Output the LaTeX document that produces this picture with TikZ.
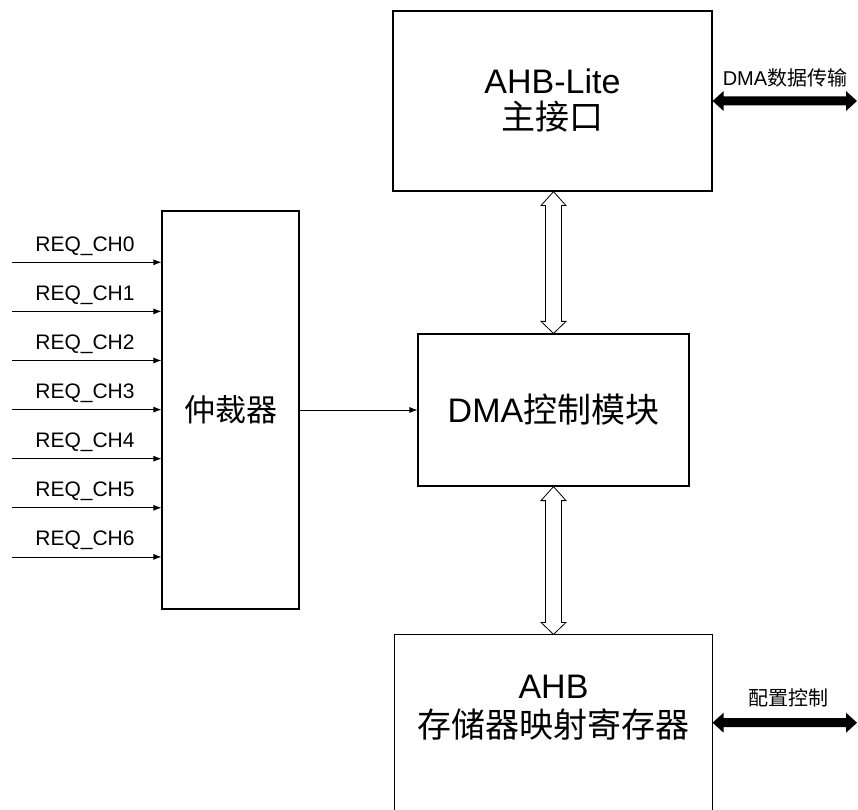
\documentclass[tikz,border=0pt]{standalone}
\usepackage{fontspec}
\setmainfont{Liberation Sans}
\newfontfamily\cjk{Noto Sans CJK SC}
\usetikzlibrary{arrows.meta,calc}
\begin{document}
\begin{tikzpicture}[x=1pt,y=1pt,
  box/.style={draw=black,line width=1.2pt,inner sep=0pt,align=center,font=\fontsize{34}{42}\selectfont},
  req/.style={-{Latex[length=8pt,width=6pt]},line width=0.8pt},
  lbl/.style={font=\fontsize{20}{22}\selectfont,inner sep=0pt},
  reqlbl/.style={font=\fontsize{21}{23}\selectfont,inner sep=0pt},
  hollow/.style={draw=black,line width=0.8pt,fill=white},
  thick/.style={fill=black}]
\useasboundingbox (0,0) rectangle (858,809);
\node[box,minimum width=319pt,minimum height=180pt] (top) at (552.5,708) {AHB-Lite\\[-6pt]{\cjk 主接口}};
\node[box,font=\fontsize{31}{40}\selectfont,minimum width=137pt,minimum height=398pt] (arb) at (230.5,399) {\cjk 仲裁器};
\node[box,minimum width=271pt,minimum height=152pt] (dma) at (553.5,399) {DMA{\cjk 控制模块}};
\node[box,draw=none,minimum width=317pt,minimum height=145pt] (cfg) at (553.5,101.5) {AHB\\[-3pt]{\cjk 存储器映射寄存器}};
\draw[line width=1.2pt] (cfg.north west |- 0,-5) -- (cfg.north west) -- (cfg.north east) -- (cfg.north east |- 0,-5);
% request inputs
\foreach \i/\name in {0/REQ\_CH0,1/REQ\_CH1,2/REQ\_CH2,3/REQ\_CH3,4/REQ\_CH4,5/REQ\_CH5,6/REQ\_CH6}{
  \coordinate (r\i) at (12,{546.7-49.1*\i});
  \draw[req] (r\i) -- (r\i -| arb.west);
  \node[reqlbl] (l\i) at ($(r\i)+(73,16.5)$) {\name};
}
\draw[req] (arb.east |- dma.west) -- (dma.west);
% hollow double arrows
\coordinate (a1) at (dma.north |- top.south);
\coordinate (a2) at (dma.north);
\coordinate (b1) at (dma.south);
\coordinate (b2) at (dma.south |- cfg.north);
\foreach \s/\e in {a1/a2,b1/b2}{
  \path let \p1=(\s), \p2=(\e) in
    [hollow] (\x1,\y1) -- (\x1+12.5pt,\y1-14pt) -- (\x1+8pt,\y1-14pt) -- (\x1+8pt,\y2+12pt) -- (\x1+12.5pt,\y2+12pt)
    -- (\x2,\y2) -- (\x1-12.5pt,\y2+12pt) -- (\x1-8pt,\y2+12pt) -- (\x1-8pt,\y1-14pt) -- (\x1-12.5pt,\y1-14pt) -- cycle;
}
% thick black double arrows
\coordinate (d1) at (top.east);
\coordinate (d2) at (857,708);
\coordinate (e1) at (cfg.east |- 0,86.3);
\coordinate (e2) at (857,86.3);
\foreach \s/\e in {d1/d2,e1/e2}{
  \path let \p1=(\s), \p2=(\e) in
    [thick] (\x1,\y1) -- (\x1+11pt,\y1+10pt) -- (\x1+11pt,\y1+4.5pt) -- (\x2-11pt,\y1+4.5pt) -- (\x2-11pt,\y1+10pt)
    -- (\x2,\y1) -- (\x2-11pt,\y1-10pt) -- (\x2-11pt,\y1-4.5pt) -- (\x1+11pt,\y1-4.5pt) -- (\x1+11pt,\y1-10pt) -- cycle;
}
\node[lbl] (t1) at (785,731) {DMA{\cjk 数据传输}};
\node[lbl] (t2) at (788,111) {\cjk 配置控制};
\end{tikzpicture}
\end{document}
